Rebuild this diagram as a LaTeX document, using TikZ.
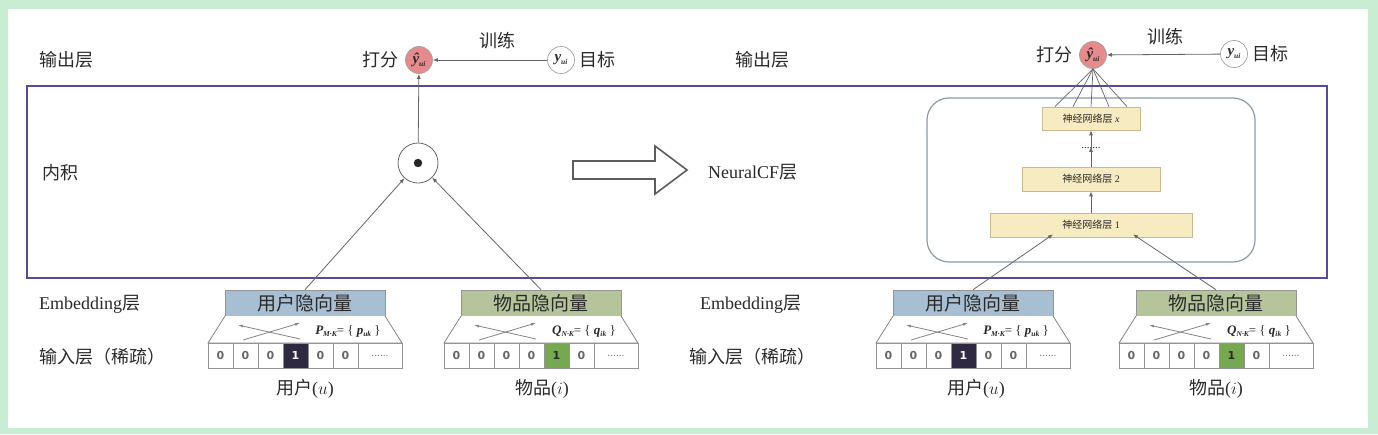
\documentclass[tikz,border=0pt]{standalone}
\usepackage{fontspec}
\setmainfont{Liberation Serif}
\newfontfamily\cjk{Noto Sans CJK SC}
\newfontfamily\dig{DejaVu Sans}
\usetikzlibrary{arrows.meta}
\definecolor{bgg}{HTML}{C8EDD2}
\definecolor{frm}{HTML}{554A9C}
\definecolor{ublue}{HTML}{A8BED3}
\definecolor{igreen}{HTML}{B5C49B}
\definecolor{dcell}{HTML}{2F2A42}
\definecolor{gcell}{HTML}{76A84F}
\definecolor{pinkc}{HTML}{E68A8C}
\definecolor{layf}{HTML}{F7EBC2}
\definecolor{layd}{HTML}{C9B98E}
\definecolor{rboxc}{HTML}{8C9BAA}
\definecolor{txt}{HTML}{2A2A2A}
\definecolor{lnc}{HTML}{666666}
\newcommand\bi[1]{{\bfseries\itshape #1}}
\newcommand\sbs[1]{\raisebox{-2.5pt}{\fontsize{7.5}{8}\selectfont\bfseries\itshape #1}}
\tikzset{
  lbl/.style={text=txt, inner sep=1pt, font=\fontsize{18}{20}\selectfont},
  vecbox/.style={draw=lnc!70, line width=0.6pt, minimum width=160pt, minimum height=26pt, inner sep=0pt, text=txt, font=\fontsize{19}{20}\selectfont},
  trap/.style={draw=lnc!80, line width=0.8pt, fill=white},
  xarr/.style={draw=lnc!80, line width=0.8pt, -{Latex[length=5pt,width=3pt]}},
  formula/.style={text=txt, inner sep=0pt, font=\fontsize{13}{14}\selectfont},
  cellbox/.style={draw=lnc!70, line width=0.7pt, minimum width=25pt, minimum height=25pt, inner sep=0pt, text=lnc, font=\dig\bfseries\fontsize{11}{12}\selectfont},
  dotcell/.style={cellbox, minimum width=44pt, font=\dig\fontsize{9}{9}\selectfont},
  circ/.style={circle, draw=lnc!60, line width=0.7pt, minimum size=27pt, inner sep=0pt, text=txt, font=\fontsize{15}{15}\selectfont},
  arr/.style={draw=lnc, line width=0.8pt, -{Latex[length=5pt,width=4pt]}},
  nnlayer/.style={draw=layd, fill=layf, line width=0.7pt, minimum height=24pt, inner sep=0pt, text=txt, font=\fontsize{10}{12}\selectfont},
}
\begin{document}
\begin{tikzpicture}[x=1pt,y=-1pt]
\fill[bgg] (0,0) rectangle (1378,434);
\fill[white] (8,9) rectangle (1368,428);
\useasboundingbox (0,0) rectangle (1378,434);
\draw[frm, line width=2.6pt] (27,86) rectangle (1327,278);
\node[lbl] (out1) at (66,60) {\cjk 输出层};
\node[lbl] (inner) at (60,173) {\cjk 内积};
\node[lbl, anchor=west] (emb1) at (38,304) {Embedding{\cjk 层}};
\node[lbl, anchor=west] (inp1) at (38,357) {\cjk 输入层（稀疏）};
\node[lbl] (out2) at (762,60) {\cjk 输出层};
\node[lbl, anchor=west] (emb2) at (699,304) {Embedding{\cjk 层}};
\node[lbl, anchor=west] (inp2) at (688,357) {\cjk 输入层（稀疏）};
% ---- block ua
\node[vecbox, fill=ublue] (uabox) at (305,303) {\cjk 用户隐向量};
\draw[trap] (225,316) -- (208,343) -- (402,343) -- (385,316);
\draw[xarr] (300,339) -- (238,325);
\draw[xarr] (243,340) -- (300,323);
\node[formula] (uaf) at (348,331) {\bi{P}\sbs{M·K}= \{ \bi{p}\sbs{uk} \}};
\node[cellbox] (uac1) at (220.5,355.5) {0};
\node[cellbox] (uac2) at (245.5,355.5) {0};
\node[cellbox] (uac3) at (270.5,355.5) {0};
\node[cellbox, fill=dcell, text=white] (uac4) at (295.5,355.5) {1};
\node[cellbox] (uac5) at (320.5,355.5) {0};
\node[cellbox] (uac6) at (345.5,355.5) {0};
\node[dotcell] (uadots) at (380,355.5) {......};
% ---- block ia
\node[vecbox, fill=igreen] (iabox) at (541,303) {\cjk 物品隐向量};
\draw[trap] (461,316) -- (444,343) -- (638,343) -- (621,316);
\draw[xarr] (536,339) -- (474,325);
\draw[xarr] (479,340) -- (536,323);
\node[formula] (iaf) at (584,331) {\bi{Q}\sbs{N·K}= \{ \bi{q}\sbs{ik} \}};
\node[cellbox] (iac1) at (456.5,355.5) {0};
\node[cellbox] (iac2) at (481.5,355.5) {0};
\node[cellbox] (iac3) at (506.5,355.5) {0};
\node[cellbox] (iac4) at (531.5,355.5) {0};
\node[cellbox, fill=gcell, text=txt] (iac5) at (556.5,355.5) {1};
\node[cellbox] (iac6) at (581.5,355.5) {0};
\node[dotcell] (iadots) at (616,355.5) {......};
% ---- block ub
\node[vecbox, fill=ublue] (ubbox) at (973,303) {\cjk 用户隐向量};
\draw[trap] (893,316) -- (876,343) -- (1070,343) -- (1053,316);
\draw[xarr] (968,339) -- (906,325);
\draw[xarr] (911,340) -- (968,323);
\node[formula] (ubf) at (1016,331) {\bi{P}\sbs{M·K}= \{ \bi{p}\sbs{uk} \}};
\node[cellbox] (ubc1) at (888.5,355.5) {0};
\node[cellbox] (ubc2) at (913.5,355.5) {0};
\node[cellbox] (ubc3) at (938.5,355.5) {0};
\node[cellbox, fill=dcell, text=white] (ubc4) at (963.5,355.5) {1};
\node[cellbox] (ubc5) at (988.5,355.5) {0};
\node[cellbox] (ubc6) at (1013.5,355.5) {0};
\node[dotcell] (ubdots) at (1048,355.5) {......};
% ---- block ib
\node[vecbox, fill=igreen] (ibbox) at (1216,303) {\cjk 物品隐向量};
\draw[trap] (1136,316) -- (1119,343) -- (1313,343) -- (1296,316);
\draw[xarr] (1211,339) -- (1149,325);
\draw[xarr] (1154,340) -- (1211,323);
\node[formula] (ibf) at (1259,331) {\bi{Q}\sbs{N·K}= \{ \bi{q}\sbs{ik} \}};
\node[cellbox] (ibc1) at (1131.5,355.5) {0};
\node[cellbox] (ibc2) at (1156.5,355.5) {0};
\node[cellbox] (ibc3) at (1181.5,355.5) {0};
\node[cellbox] (ibc4) at (1206.5,355.5) {0};
\node[cellbox, fill=gcell, text=txt] (ibc5) at (1231.5,355.5) {1};
\node[cellbox] (ibc6) at (1256.5,355.5) {0};
\node[dotcell] (ibdots) at (1291,355.5) {......};
% labels under
\node[lbl] (ulab1) at (305,389) {{\cjk 用户}($u$)};
\node[lbl] (ilab1) at (542,389) {{\cjk 物品}($i$)};
\node[lbl] (ulab2) at (976,389) {{\cjk 用户}($u$)};
\node[lbl] (ilab2) at (1216,389) {{\cjk 物品}($i$)};
% left top
\node[circ, fill=pinkc] (yh1) at (419,60) {\bi{ŷ}\sbs{ui}};
\node[circ, fill=white] (y1) at (561,60) {\bi{y}\sbs{ui}};
\draw[arr] (y1) -- (yh1);
\node[lbl] (tr1) at (497,41) {\cjk 训练};
\node[lbl, anchor=east] (df1) at ([xshift=-5pt]yh1.west) {\cjk 打分};
\node[lbl, anchor=west] (mb1) at ([xshift=3pt]y1.east) {\cjk 目标};
% inner product
\node[circle, draw=lnc, line width=0.8pt, minimum size=40pt, inner sep=0pt] (dot) at (418,163) {};
\fill[black!85] (dot.center) circle (4.2);
\draw[arr] (dot) -- (yh1);
\draw[arr] (uabox.north) -- (dot);
\draw[arr] (iabox.north) -- (dot);
% hollow arrow
\draw[line width=1.6pt, lnc!90!black, fill=white] (573,161) -- (655,161) -- (655,146) -- (687,170) -- (655,194) -- (655,179) -- (573,179) -- cycle;
\node[lbl, anchor=west] (ncf) at (707,172) {NeuralCF{\cjk 层}};
% right top
\node[circ, fill=pinkc] (yh2) at (1093,55) {\bi{ŷ}\sbs{ui}};
\node[circ, fill=white] (y2) at (1234,54) {\bi{y}\sbs{ui}};
\draw[arr] (y2) -- (yh2);
\node[lbl] (tr2) at (1165,37) {\cjk 训练};
\node[lbl, anchor=east] (df2) at ([xshift=-5pt]yh2.west) {\cjk 打分};
\node[lbl, anchor=west] (mb2) at ([xshift=3pt]y2.east) {\cjk 目标};
% NeuralCF box
\draw[rboxc, line width=1.2pt, rounded corners=22pt] (927,98) rectangle (1255,262);
\node[nnlayer, minimum width=202pt] (l1) at (1091,225) {{\cjk 神经网络层} 1};
\node[nnlayer, minimum width=138pt] (l2) at (1091,179) {{\cjk 神经网络层} 2};
\node[nnlayer, minimum width=98pt, minimum height=23pt] (lx) at (1091,118.5) {{\cjk 神经网络层} \textit{x}};
\node[inner sep=1pt, text=txt, font=\fontsize{11}{11}\selectfont] (ld) at (1091,148) {.......};
\draw[arr] (l1.north) -- (l2.south);
\draw[arr] (l2.north) -- ([yshift=3pt]ld.south);
\draw[arr] ([yshift=-3pt]ld.north) -- (lx.south);
\foreach \dx in {-36,-18,0,18,36}
  \draw[lnc, line width=0.7pt] ([xshift=\dx pt]lx.north) -- (yh2.south);
\draw[arr] (ubbox.north) -- ([xshift=-38pt,yshift=3pt]l1.south);
\draw[arr] (ibbox.north) -- ([xshift=42pt,yshift=3pt]l1.south);
\end{tikzpicture}
\end{document}
